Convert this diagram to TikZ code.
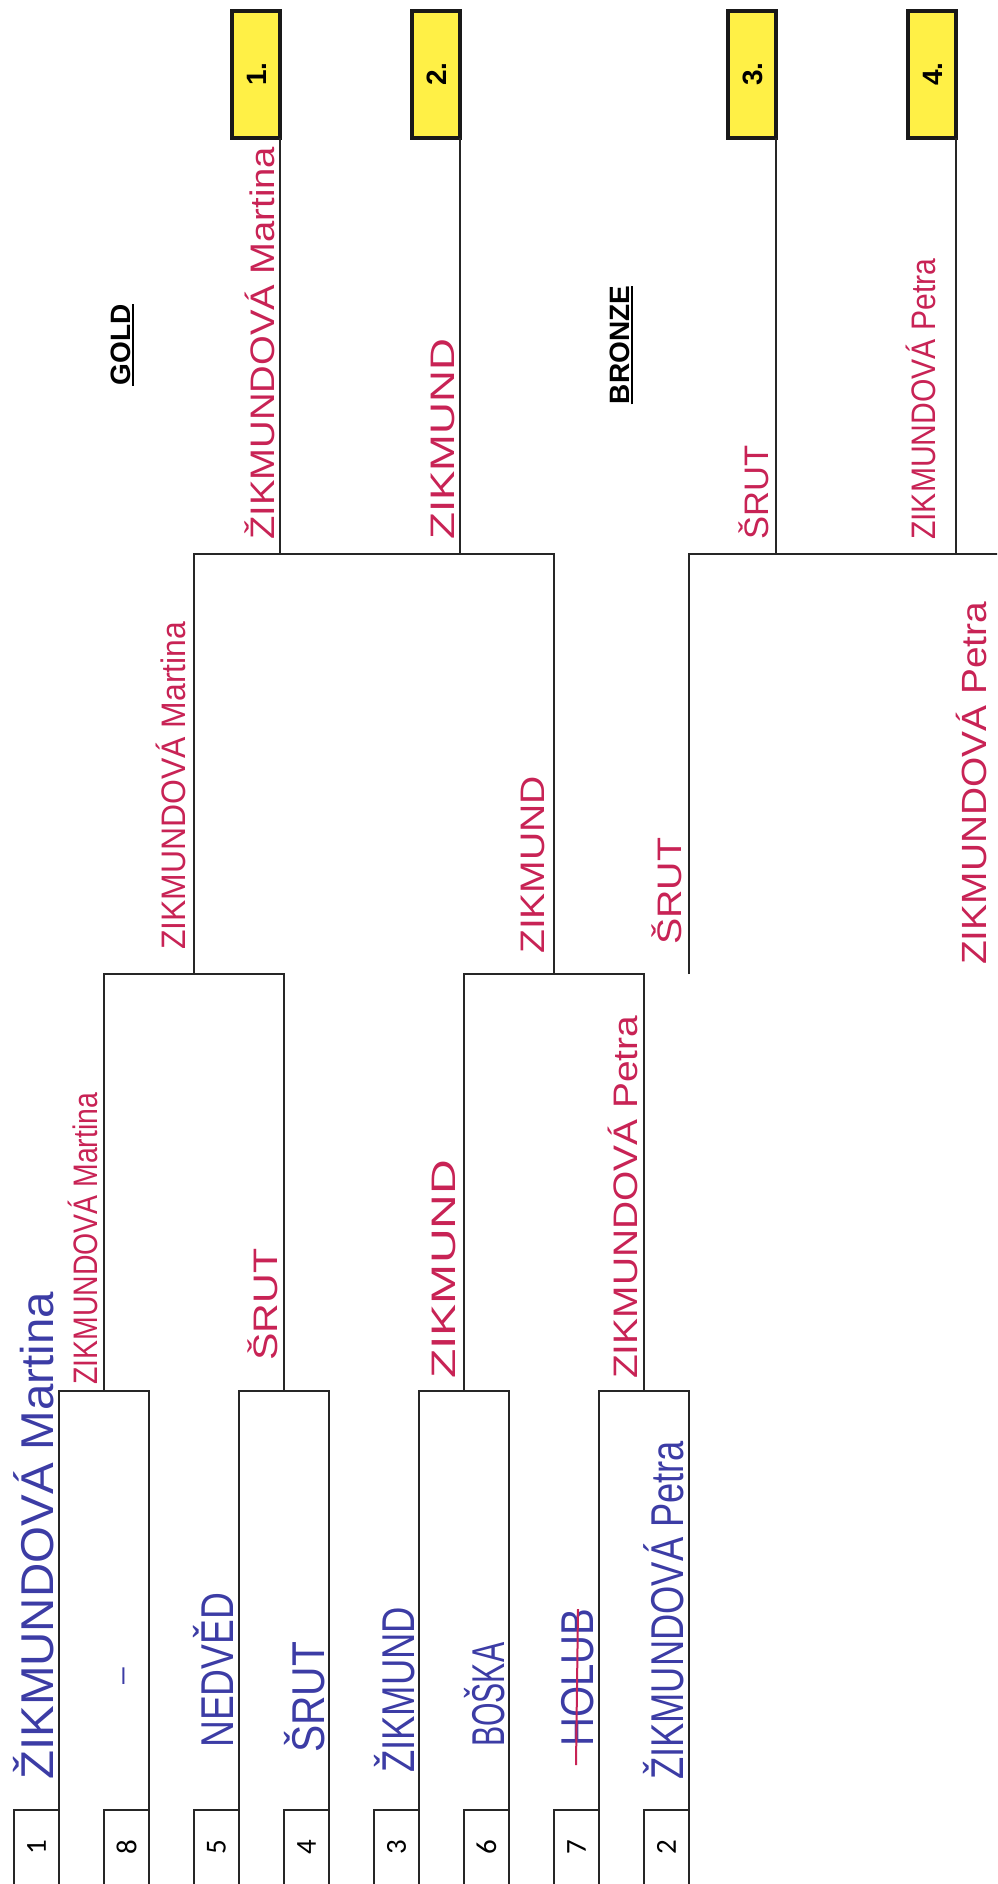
\documentclass[tikz,border=0pt]{standalone}
\usepackage{fontspec}
\usepackage{graphicx}
\setmainfont{Liberation Sans}
\newfontfamily\numfont{Carlito}
\definecolor{pen}{RGB}{200,35,85}
\definecolor{ink}{RGB}{60,60,165}
\definecolor{medalfill}{RGB}{255,240,70}
\newcommand{\hw}[3]{\resizebox{#1pt}{\height}{\fontsize{#2}{#2}\selectfont #3}}
\begin{document}
\begin{tikzpicture}[x=1pt,y=-1pt,
  bline/.style={line width=2.5pt, draw=black!85, line join=miter},
  medal/.style={draw=black!90, line width=4pt, fill=medalfill},
  bluetext/.style={rotate=90, anchor=base west, inner sep=0pt, text=ink},
  redtext/.style={rotate=90, anchor=base west, inner sep=0pt, text=pen},
  seednum/.style={rotate=90, inner sep=0pt, font=\numfont\fontsize{29}{29}\selectfont},
  medalnum/.style={rotate=90, inner sep=0pt, font=\bfseries\fontsize{28}{28}\selectfont},
  label/.style={rotate=90, anchor=base, inner sep=0pt, font=\bfseries\fontsize{28}{28}\selectfont}]
\useasboundingbox (0,0) rectangle (997,1884);
\fill[white] (0,0) rectangle (997,1884);
\clip (0,0) rectangle (997,1884);

% first round matches
\foreach \n/\L in {1/59,2/239,3/419,4/599}{
  \coordinate (m\n bl) at (\L,1900);
  \coordinate (m\n tl) at (\L,1391);
  \coordinate (m\n tr) at (\L+90,1391);
  \coordinate (m\n br) at (\L+90,1900);
  \coordinate (m\n c) at (\L+45,1391);
  \draw[bline] (m\n bl) -- (m\n tl) -- (m\n tr) -- (m\n br);
  \coordinate (s\n a1) at (\L-45,1900);
  \coordinate (s\n a2) at (\L-45,1810);
  \coordinate (s\n a3) at (\L,1810);
  \coordinate (s\n b1) at (\L+45,1900);
  \coordinate (s\n b2) at (\L+45,1810);
  \coordinate (s\n b3) at (\L+90,1810);
  \draw[bline] (s\n a1) -- (s\n a2) -- (s\n a3);
  \draw[bline] (s\n b1) -- (s\n b2) -- (s\n b3);
}
% seed numbers
\node[seednum] (n1) at (36.5,1847) {1};
\node[seednum] (n8) at (126.5,1847) {8};
\node[seednum] (n5) at (216.5,1847) {5};
\node[seednum] (n4) at (306.5,1847) {4};
\node[seednum] (n3) at (396.5,1847) {3};
\node[seednum] (n6) at (486.5,1847) {6};
\node[seednum] (n7) at (576.5,1847) {7};
\node[seednum] (n2) at (666.5,1847) {2};

% semifinals
\coordinate (sf1l) at (104,974);
\coordinate (sf1r) at (284,974);
\coordinate (sf1c) at (194,974);
\coordinate (sf2l) at (464,974);
\coordinate (sf2r) at (644,974);
\coordinate (sf2c) at (554,974);
\draw[bline] (m1c) -- (sf1l) -- (sf1r) -- (m2c);
\draw[bline] (m3c) -- (sf2l) -- (sf2r) -- (m4c);

% final
\coordinate (fl) at (194,554);
\coordinate (fr) at (554,554);
\draw[bline] (sf1c) -- (fl) -- (fr) -- (sf2c);
\coordinate (g1b) at (280,554);
\coordinate (g2b) at (460,554);
% bronze
\coordinate (bl1) at (689,974);
\coordinate (bl2) at (689,554);
\coordinate (br2) at (1049,554);
\coordinate (br1) at (1049,974);
\draw[bline] (bl1) -- (bl2) -- (br2) -- (br1);
\coordinate (g3b) at (776,554);
\coordinate (g4b) at (956,554);

% medal boxes
\draw[medal] (232,11) rectangle (280,138);
\draw[medal] (412,11) rectangle (460,138);
\draw[medal] (728,11) rectangle (776,138);
\draw[medal] (908,11) rectangle (956,138);
\coordinate (g1t) at (280,138);
\coordinate (g2t) at (460,138);
\coordinate (g3t) at (776,138);
\coordinate (g4t) at (956,138);
\draw[bline] (g1b) -- (g1t);
\draw[bline] (g2b) -- (g2t);
\draw[bline] (g3b) -- (g3t);
\draw[bline] (g4b) -- (g4t);
\node[medalnum] (p1) at (257,74) {1.};
\node[medalnum] (p2) at (437,74) {2.};
\node[medalnum] (p3) at (753,74) {3.};
\node[medalnum] (p4) at (933,74) {4.};

% labels
\node[label] (gold) at (130,345) {GOLD};
\draw[line width=2pt] ([xshift=3pt]gold.base west) -- ([xshift=3pt]gold.base east);
\node[label] (bronze) at (629,345) {BRONZE};
\draw[line width=2pt] ([xshift=3pt]bronze.base west) -- ([xshift=3pt]bronze.base east);

% first round names (blue)
\node[bluetext] (b1) at (53,1780) {\hw{488}{46}{ŽIKMUNDOVÁ Martina}};
\node[rotate=90, inner sep=0pt, text=ink, font=\fontsize{30}{30}\selectfont] (b8) at (127,1676) {–};
\node[bluetext] (b5) at (233,1748) {\hw{155}{46}{NEDVĚD}};
\node[bluetext] (b4) at (324,1753) {\hw{111}{46}{ŠRUT}};
\node[bluetext] (b3) at (414,1773) {\hw{166}{46}{ŽIKMUND}};
\node[bluetext] (b6) at (504,1747) {\hw{104}{46}{BOŠKA}};
\node[bluetext] (b7) at (593,1747) {\hw{138}{46}{HOLUB}};
\node[bluetext] (b2) at (683,1780) {\hw{339}{46}{ŽIKMUNDOVÁ Petra}};
\draw[pen, line width=2pt] (578,1609) -- (576,1765);

% second round names (red)
\node[redtext] (r1) at (97,1385) {\hw{292}{34}{ZIKMUNDOVÁ Martina}};
\node[redtext] (r2) at (277,1361) {\hw{112}{34}{ŠRUT}};
\node[redtext] (r3) at (455,1379) {\hw{219}{34}{ZIKMUND}};
\node[redtext] (r4) at (637,1379) {\hw{363}{34}{ZIKMUNDOVÁ Petra}};
% semifinal winners / losers
\node[redtext] (s1) at (185,950) {\hw{328}{34}{ZIKMUNDOVÁ Martina}};
\node[redtext] (s2) at (544,954) {\hw{178}{34}{ZIKMUND}};
\node[redtext] (s3) at (681,945) {\hw{107}{34}{ŠRUT}};
\node[redtext] (s4) at (986,965) {\hw{363}{35}{ZIKMUNDOVÁ Petra}};
% final placings
\node[redtext] (f1) at (274,540) {\hw{393}{34}{ŽIKMUNDOVÁ Martina}};
\node[redtext] (f2) at (454,540) {\hw{201}{34}{ZIKMUND}};
\node[redtext] (f3) at (768,540) {\hw{94}{34}{ŠRUT}};
\node[redtext] (f4) at (935,540) {\hw{281}{34}{ZIKMUNDOVÁ Petra}};
\end{tikzpicture}
\end{document}
